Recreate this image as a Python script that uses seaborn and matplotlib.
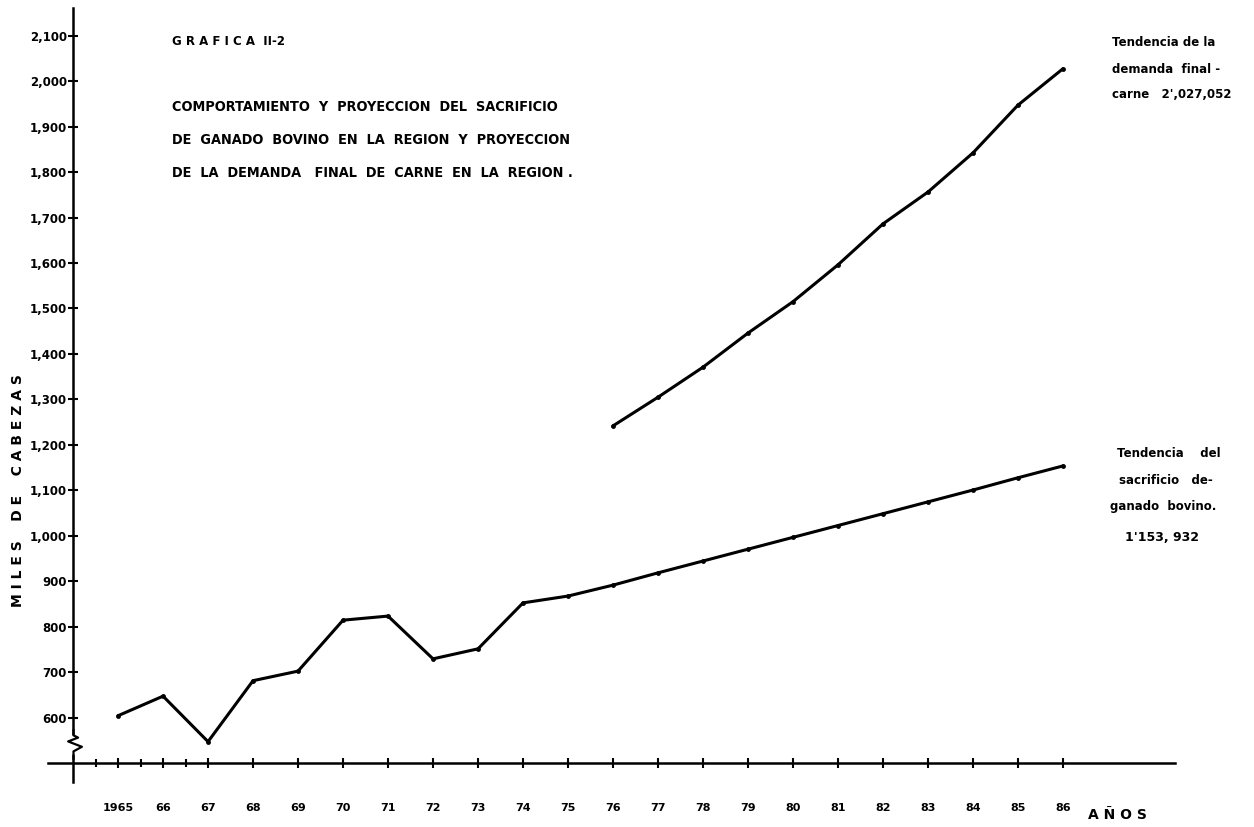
import numpy as np
import pandas as pd
import matplotlib
matplotlib.use('Agg')
import matplotlib.pyplot as plt
import seaborn as sns
from matplotlib.path import Path

# Datos (miles de cabezas)
anios_sacrificio = [1965, 1966, 1967, 1968, 1969, 1970, 1971, 1972, 1973, 1974, 1975,
                    1976, 1977, 1978, 1979, 1980, 1981, 1982, 1983, 1984, 1985, 1986]
sacrificio = [605, 648, 548, 682, 703, 815, 824, 730, 752, 853, 868,
              892, 919, 945, 971, 997, 1023, 1049, 1075, 1101, 1128, 1154]

anios_demanda = [1976, 1977, 1978, 1979, 1980, 1981, 1982, 1983, 1984, 1985, 1986]
demanda = [1242, 1305, 1371, 1446, 1515, 1596, 1686, 1756, 1842, 1947, 2027]

x_ticks = list(range(1965, 1987))
x_labels = ['1965'] + [str(a)[2:] for a in range(1966, 1987)]
y_ticks = list(range(600, 2101, 100))
y_labels = ['600', '700', '800', '900', '1,000', '1,100', '1,200', '1,300', '1,400',
            '1,500', '1,600', '1,700', '1,800', '1,900', '2,000', '2,100']

df_sac = pd.DataFrame({'anio': anios_sacrificio, 'valor': sacrificio})
df_dem = pd.DataFrame({'anio': anios_demanda, 'valor': demanda})

sns.set_style('white')
plt.rcParams['font.family'] = ['DejaVu Sans']
plt.rcParams['text.color'] = 'black'
plt.rcParams['xtick.color'] = 'black'
plt.rcParams['ytick.color'] = 'black'

fig = plt.figure(figsize=(12.54, 8.27), dpi=100)
ax = fig.add_axes([0.0383, 0.0544, 0.8987, 0.9359])

sns.lineplot(data=df_sac, x='anio', y='valor', ax=ax, color='black', linewidth=2.2,
             marker='o', markersize=3.5, markeredgewidth=0)
sns.lineplot(data=df_dem, x='anio', y='valor', ax=ax, color='black', linewidth=2.2,
             marker='o', markersize=3.5, markeredgewidth=0)

ax.set_xlim(1963.444, 1988.49)
ax.set_ylim(459.3, 2160.4)

# ejes estilo dibujo a mano
for s in ['top', 'right']:
    ax.spines[s].set_visible(False)
ax.spines['left'].set_position(('data', 1964.0))
ax.spines['bottom'].set_position(('data', 500))
for s in ['left', 'bottom']:
    ax.spines[s].set_linewidth(1.8)
    ax.spines[s].set_color('black')

ax.set_xticks(x_ticks)
ax.set_xticklabels(x_labels, fontsize=8, fontweight='bold')
ax.set_xticks([1964.5, 1965.5, 1966.5], minor=True)
ax.tick_params(axis='x', which='major', bottom=True, direction='inout', length=7, width=1.5, pad=25)
ax.tick_params(axis='x', which='minor', bottom=True, direction='inout', length=6, width=1.5)

ax.set_yticks(y_ticks)
ax.set_yticklabels(y_labels, fontsize=8.5, fontweight='bold')
ax.tick_params(axis='y', left=True, direction='inout', length=7, width=1.5, pad=1)

ax.set_xlabel('')
ax.set_ylabel('')

# corte del eje vertical
ax.plot([1964.0, 1964.0], [528, 556], color='white', linewidth=5, zorder=5, clip_on=False)
zig = Path([(0, -1), (0, -0.45), (0.55, -0.15), (-0.35, 0.2), (0.3, 0.45), (0, 0.6), (0, 1)])
ax.plot([1964.0], [542], marker=zig, markersize=22, color='black', markerfacecolor='none',
        markeredgewidth=1.6, zorder=6, clip_on=False)

# textos
ax.text(1962.78, 1100, 'M I L E S    D E    C A B E Z A S', rotation=90, ha='center', va='center',
        fontsize=10, fontweight='bold')
ax.text(1987.2, 387, 'A Ñ O S', ha='center', va='center', fontsize=10, fontweight='bold')

ax.text(1966.2, 2086, 'G R A F I C A  II-2', ha='left', va='center', fontsize=8.5, fontweight='bold')
titulo = ['COMPORTAMIENTO  Y  PROYECCION  DEL  SACRIFICIO',
          'DE  GANADO  BOVINO  EN  LA  REGION  Y  PROYECCION',
          'DE  LA  DEMANDA   FINAL  DE  CARNE  EN  LA  REGION .']
for i, linea in enumerate(titulo):
    ax.text(1966.2, 1943 - i * 73, linea, ha='left', va='center', fontsize=10.4,
            fontstretch='condensed', fontweight='bold')

ax.text(1987.1, 2084, 'Tendencia de la', ha='left', va='center', fontsize=8.5, fontweight='bold')
ax.text(1987.1, 2026, 'demanda  final -', ha='left', va='center', fontsize=8.5, fontweight='bold')
ax.text(1987.1, 1971, "carne   2',027,052", ha='left', va='center', fontsize=8.5, fontweight='bold')

ax.text(1987.2, 1182, 'Tendencia    del', ha='left', va='center', fontsize=8.5, fontweight='bold')
ax.text(1987.25, 1123, 'sacrificio   de-', ha='left', va='center', fontsize=8.5, fontweight='bold')
ax.text(1987.05, 1064, 'ganado  bovino.', ha='left', va='center', fontsize=8.5, fontweight='bold')
ax.text(1988.2, 996, "1'153, 932", ha='center', va='center', fontsize=9, fontweight='bold')

fig.savefig('out.png', dpi=100)
